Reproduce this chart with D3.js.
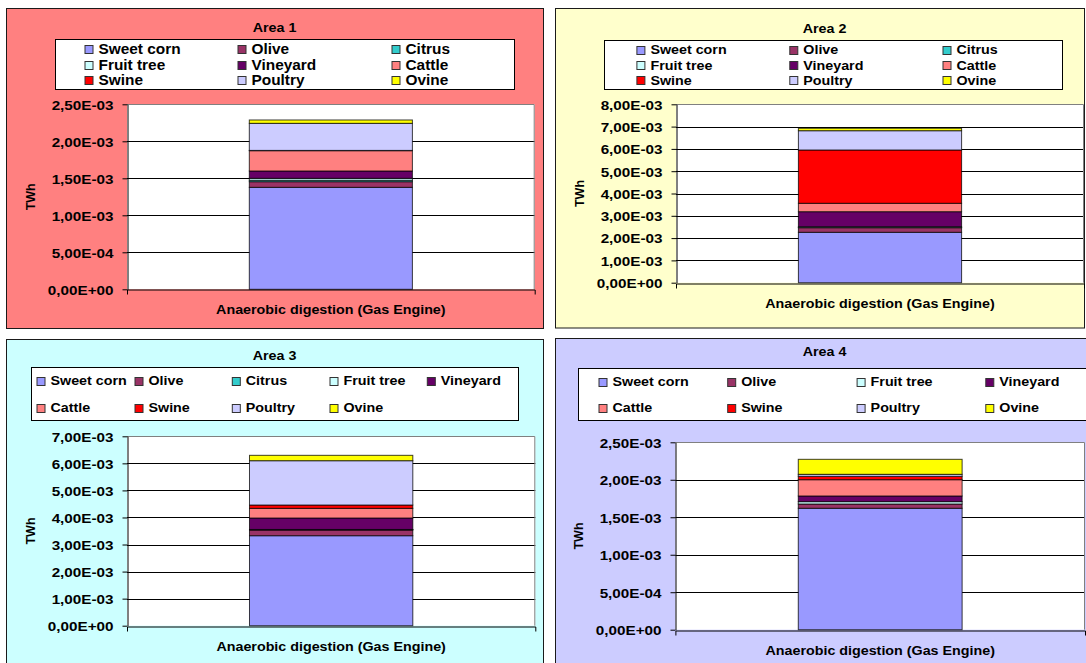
<!DOCTYPE html>
<html>
<head>
<meta charset="utf-8">
<script src="https://cdn.jsdelivr.net/npm/d3@7"></script>
<style>
  html, body { margin: 0; padding: 0; background: #fff; }
  svg { display: block; }
  text { font-family: "Liberation Sans", Arial, sans-serif; font-weight: bold; fill: #000; }
</style>
</head>
<body>
<svg id="chart" width="1086" height="663"></svg>
<script>
// Energy from anaerobic digestion (gas engine) by biomass source, per area
const CATEGORY = "Anaerobic digestion (Gas Engine)";
const SERIES = ["Sweet corn", "Olive", "Citrus", "Fruit tree", "Vineyard", "Cattle", "Swine", "Poultry", "Ovine"];
const COLORS = ["#9999FF", "#993366", "#33CCCC", "#CCFFFF", "#660066", "#FF8080", "#FF0000", "#CCCCFF", "#FFFF00"];

// TWh per source (null = source not present in the area)
const AREA_1 = [1.378e-3, 0.076e-3, 0.020e-3, 0.026e-3, 0.099e-3, 0.274e-3, 0.004e-3, 0.366e-3, 0.045e-3];
const AREA_2 = [2.260e-3, 0.206e-3, 0.015e-3, 0.030e-3, 0.673e-3, 0.377e-3, 2.390e-3, 0.865e-3, 0.108e-3];
const AREA_3 = [3.326e-3, 0.211e-3, 0.010e-3, 0.010e-3, 0.423e-3, 0.358e-3, 0.122e-3, 1.638e-3, 0.199e-3];
const AREA_4 = [1.620e-3, 0.057e-3, null, 0.031e-3, 0.076e-3, 0.217e-3, 0.045e-3, 0.027e-3, 0.200e-3];

const TITLES = ["Area 1", "Area 2", "Area 3", "Area 4"];
const TICKS_1 = [0, 5e-4, 1e-3, 1.5e-3, 2e-3, 2.5e-3];
const TICKS_2 = [0, 1e-3, 2e-3, 3e-3, 4e-3, 5e-3, 6e-3, 7e-3, 8e-3];
const TICKS_3 = [0, 1e-3, 2e-3, 3e-3, 4e-3, 5e-3, 6e-3, 7e-3];
const TICKS_4 = [0, 5e-4, 1e-3, 1.5e-3, 2e-3, 2.5e-3];
const Y_TITLE = "TWh";

// "2,50E-03" style labels
function sci(v) {
  if (v === 0) return "0,00E+00";
  const [m, e] = v.toExponential(2).split("e");
  const ex = parseInt(e, 10);
  return m.replace(".", ",") + "E" + (ex < 0 ? "-" : "+") + String(Math.abs(ex)).padStart(2, "0");
}

const SX = 1.1; // slightly wide lettering
const svg = d3.select("#chart");

function label(g, x, y, str, size, anchor, sx = SX) {
  return g.append("g")
    .attr("transform", `translate(${x},${y}) scale(${sx},1)`)
    .append("text")
    .attr("text-anchor", anchor)
    .attr("dy", "0.36em")
    .style("font-size", size + "px")
    .text(str);
}

const panels = [
  {
    values: AREA_1, ticks: TICKS_1, title: TITLES[0], bg: "#FF8080",
    box: { x: 6.5, y: 8.5, w: 537, h: 320 }, titleX: 274.5, titleY: 27.5,
    legend: { x: 55.5, y: 39.5, w: 459, h: 50, cols: [84.5, 237.5, 391.5], rows: [49.3, 64.6, 80], size: 14 },
    plot: { x: 127, y: 104.3, w: 407.7, h: 185 }
  },
  {
    values: AREA_2, ticks: TICKS_2, title: TITLES[1], bg: "#FFFFCC",
    box: { x: 555.5, y: 8.5, w: 529, h: 319.5 }, titleX: 824.5, titleY: 28.3,
    legend: { x: 604.5, y: 40.5, w: 458, h: 49, cols: [636.4, 789.3, 942.5], rows: [49.5, 65.2, 80.4], size: 13 },
    plot: { x: 676, y: 104.3, w: 408, h: 178.4 }
  },
  {
    values: AREA_3, ticks: TICKS_3, title: TITLES[2], bg: "#CCFFFF",
    box: { x: 6.5, y: 339.5, w: 537, h: 340 }, titleX: 274.5, titleY: 355.7,
    legend: { x: 31.5, y: 367.5, w: 487, h: 53, cols: [36.5, 134.5, 231.8, 329.5, 426.8], rows: [380.7, 407.7], size: 13 },
    plot: { x: 127, y: 436.3, w: 408.3, h: 189.4 }
  },
  {
    values: AREA_4, ticks: TICKS_4, title: TITLES[3], bg: "#CCCCFF",
    box: { x: 555.5, y: 338.5, w: 545, h: 340 }, titleX: 824.5, titleY: 351.3,
    legend: { x: 578.5, y: 368.5, w: 530, h: 52, cols: [598.5, 727.2, 856.6, 985.3], rows: [381.7, 407.7], size: 13 },
    plot: { x: 675.4, y: 442.3, w: 409.6, h: 187.4 }
  }
];

panels.forEach(p => {
  const g = svg.append("g");

  // panel background
  g.append("rect")
    .attr("x", p.box.x).attr("y", p.box.y).attr("width", p.box.w).attr("height", p.box.h)
    .attr("fill", p.bg).attr("stroke", "#1a1a1a").attr("stroke-width", 1);

  label(g, p.titleX, p.titleY, p.title, 13, "middle");

  // legend
  const L = p.legend;
  g.append("rect")
    .attr("x", L.x).attr("y", L.y).attr("width", L.w).attr("height", L.h)
    .attr("fill", "#fff").attr("stroke", "#000").attr("stroke-width", 1);
  const items = SERIES.map((s, i) => ({ name: s, color: COLORS[i], v: p.values[i] }))
    .filter(d => d.v !== null);
  const nc = L.cols.length;
  items.forEach((d, i) => {
    const cx = L.cols[i % nc];
    const cy = L.rows[Math.floor(i / nc)];
    g.append("rect")
      .attr("x", cx + 0.5).attr("y", Math.round(cy - 4) + 0.5).attr("width", 8).attr("height", 8)
      .attr("fill", d.color).attr("stroke", "#333").attr("stroke-width", 1);
    label(g, cx + 14, cy, d.name, L.size, "start");
  });

  // plot area
  const P = p.plot;
  const yMax = p.ticks[p.ticks.length - 1];
  const y = d3.scaleLinear().domain([0, yMax]).range([P.y + P.h, P.y]);
  const x = d3.scaleBand().domain([CATEGORY]).range([P.x, P.x + P.w])
    .paddingInner(0.6).paddingOuter(0.3);

  g.append("rect")
    .attr("x", P.x).attr("y", P.y).attr("width", P.w).attr("height", P.h)
    .attr("fill", "#fff");

  // gridlines
  g.append("g").selectAll("line")
    .data(p.ticks.filter(t => t > 0 && t < yMax))
    .join("line")
    .attr("x1", P.x).attr("x2", P.x + P.w)
    .attr("y1", d => Math.round(y(d)) + 0.5).attr("y2", d => Math.round(y(d)) + 0.5)
    .attr("stroke", "#000").attr("stroke-width", 1);

  // plot frame (top/right)
  g.append("path")
    .attr("d", `M${P.x},${Math.round(P.y) + 0.5}H${P.x + P.w - 0.5}V${P.y + P.h}`)
    .attr("fill", "none").attr("stroke", "#808080").attr("stroke-width", 1);

  // stacked bar
  const row = { cat: CATEGORY };
  SERIES.forEach((s, i) => { row[s] = p.values[i] || 0; });
  const stacked = d3.stack().keys(SERIES)([row]);
  g.append("g").selectAll("rect")
    .data(stacked.filter((s, i) => p.values[i] !== null))
    .join("rect")
    .attr("x", x(CATEGORY))
    .attr("width", x.bandwidth())
    .attr("y", s => y(s[0][1]))
    .attr("height", s => Math.max(0, y(s[0][0]) - y(s[0][1])))
    .attr("fill", s => COLORS[SERIES.indexOf(s.key)])
    .attr("stroke", "#000").attr("stroke-opacity", 0.75).attr("stroke-width", 1);

  // y axis
  const ya = g.append("g")
    .attr("transform", `translate(${Math.round(P.x) + 0.5},0)`)
    .call(d3.axisLeft(y).tickValues(p.ticks).tickFormat(sci).tickSize(5).tickSizeOuter(0));
  ya.select(".domain").attr("stroke", "#000");
  ya.selectAll(".tick line").attr("stroke", "#000");
  ya.selectAll(".tick text")
    .attr("x", -14 / 1.13).attr("dy", "0.36em")
    .attr("transform", "scale(1.13,1)")
    .style("font-size", "13.5px").style("font-family", null).attr("font-family", null);

  // x axis with the category label and edge ticks
  const xa = g.append("g")
    .attr("transform", `translate(0,${Math.round(P.y + P.h) + 0.5})`)
    .call(d3.axisBottom(x).tickSize(0).tickSizeOuter(5).tickPadding(0));
  xa.select(".domain").attr("stroke", "#000");
  xa.selectAll(".tick text")
    .attr("y", 20 / 1).attr("dy", "0.36em")
    .attr("transform", `translate(${x(CATEGORY) + x.bandwidth() / 2},0) scale(${SX},1) translate(${-(x(CATEGORY) + x.bandwidth() / 2)},0)`)
    .style("font-size", "13px").attr("font-family", null);
  xa.selectAll(".tick").each(function () {
    const t = d3.select(this);
    const tx = x(CATEGORY) + x.bandwidth() / 2;
    t.attr("transform", null);
    t.select("text").attr("x", tx).attr("transform", `translate(${tx},0) scale(${SX},1) translate(${-tx},0)`);
  });

  // y title
  g.append("text")
    .attr("transform", `translate(${P.x - 97},${P.y + P.h / 2}) rotate(-90)`)
    .attr("text-anchor", "middle").attr("dy", "0.36em")
    .style("font-size", "12.5px")
    .text(Y_TITLE);
});
</script>
</body>
</html>
